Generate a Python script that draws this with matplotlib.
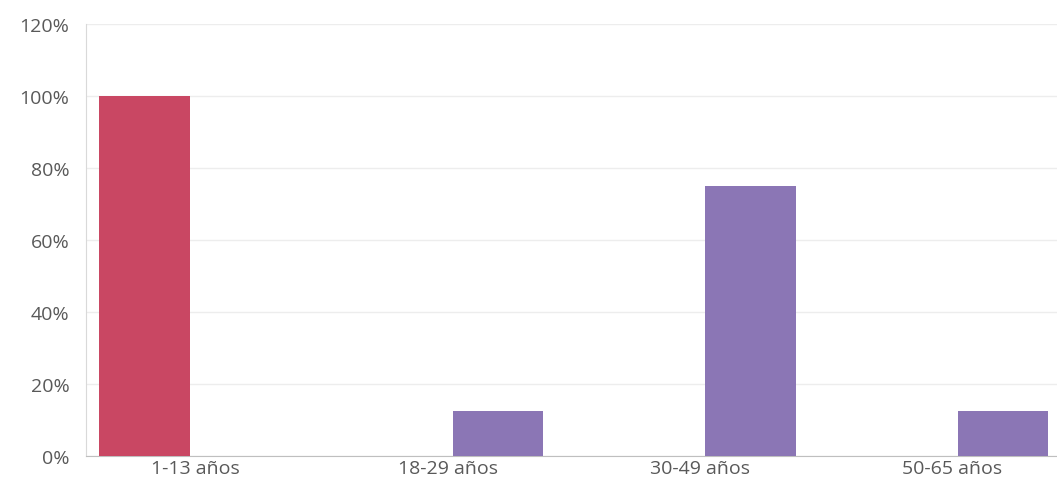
import numpy as np
import matplotlib.pyplot as plt
from matplotlib.ticker import PercentFormatter

categories = ['1-13 años', '18-29 años', '30-49 años', '50-65 años']
serie_roja = [1.0, 0.0, 0.0, 0.0]
serie_morada = [0.0, 0.125, 0.75, 0.125]

plt.rcParams['font.family'] = ['Open Sans', 'DejaVu Sans']

fig = plt.figure(figsize=(10.57, 4.85), dpi=100)
ax = fig.add_axes([0.0814, 0.0577, 0.9186, 0.8907])

x = np.arange(len(categories))
w = 0.36
ax.bar(x - 0.2, serie_roja, w, color='#C94763', zorder=3)
ax.bar(x + 0.2, serie_morada, w, color='#8B76B5', zorder=3)

ax.set_ylim(0, 1.2)
ax.set_xlim(-0.432, 3.414)
ax.set_yticks(np.arange(0, 1.21, 0.2))
ax.yaxis.set_major_formatter(PercentFormatter(1.0, decimals=0))
ax.set_xticks(x)
ax.set_xticklabels(categories)

ax.grid(axis='y', color='#EDEDED', linewidth=1, zorder=0)
for s in ['top', 'right']:
    ax.spines[s].set_visible(False)
ax.spines['left'].set_color('#D9D9D9')
ax.spines['bottom'].set_color('#BFBFBF')
ax.tick_params(length=0, labelsize=14, colors='#595959')
ax.tick_params(axis='y', pad=12)
ax.tick_params(axis='x', pad=2)

fig.savefig('out.png', dpi=100)
